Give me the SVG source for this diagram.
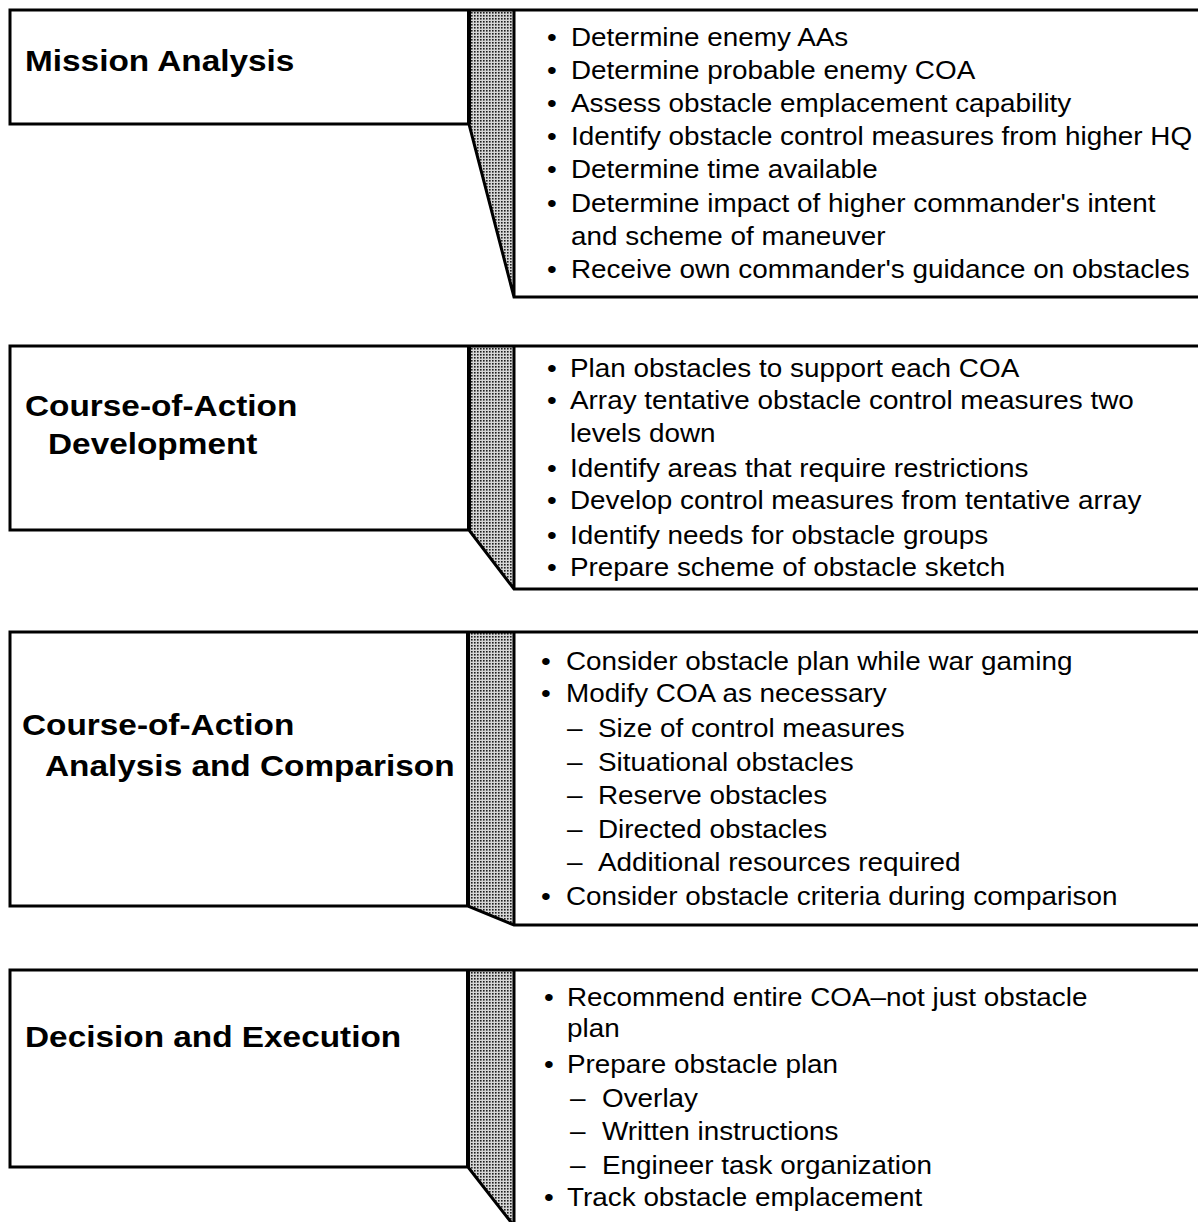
<svg xmlns="http://www.w3.org/2000/svg" width="1198" height="1222" viewBox="0 0 1198 1222">
<defs>
<pattern id="dots" width="3" height="3" patternUnits="userSpaceOnUse">
<rect width="3" height="3" fill="#d6d6d6"/>
<rect width="1.6" height="1.6" fill="#1e1e1e"/>
</pattern>
<style>
.out{fill:none;stroke:#000;stroke-width:3;stroke-linejoin:miter}
.edge{fill:none;stroke:#000;stroke-width:4}
.strip{fill:url(#dots);stroke:none}
.t{font-family:"Liberation Sans",Arial,Helvetica,sans-serif;font-weight:bold;font-size:29px;fill:#000}
.b{font-family:"Liberation Sans",Arial,Helvetica,sans-serif;font-size:25px;fill:#000}
</style>
</defs>
<rect width="1198" height="1222" fill="#fff"/>

<g id="mission-analysis">
<polygon class="strip" points="469,10 514,10 514,297 469,124"/>
<path class="out" d="M1198,10 H10 V124 H469 L514,297 H1198 M514,10 V297"/>
<path class="edge" d="M469,10 V124"/>
<text class="t" transform="matrix(1.15 0 0 1 25 71)">Mission Analysis</text>
<text class="b" transform="matrix(1.115 0 0 1 547 46)">•</text><text class="b" transform="matrix(1.115 0 0 1 571 46)">Determine enemy AAs</text>
<text class="b" transform="matrix(1.115 0 0 1 547 79)">•</text><text class="b" transform="matrix(1.115 0 0 1 571 79)">Determine probable enemy COA</text>
<text class="b" transform="matrix(1.115 0 0 1 547 112)">•</text><text class="b" transform="matrix(1.115 0 0 1 571 112)">Assess obstacle emplacement capability</text>
<text class="b" transform="matrix(1.115 0 0 1 547 145)">•</text><text class="b" transform="matrix(1.115 0 0 1 571 145)">Identify obstacle control measures from higher HQ</text>
<text class="b" transform="matrix(1.115 0 0 1 547 178)">•</text><text class="b" transform="matrix(1.115 0 0 1 571 178)">Determine time available</text>
<text class="b" transform="matrix(1.115 0 0 1 547 212)">•</text><text class="b" transform="matrix(1.115 0 0 1 571 212)">Determine impact of higher commander's intent</text>
<text class="b" transform="matrix(1.115 0 0 1 571 245)">and scheme of maneuver</text>
<text class="b" transform="matrix(1.115 0 0 1 547 278)">•</text><text class="b" transform="matrix(1.115 0 0 1 571 278)">Receive own commander's guidance on obstacles</text>
</g>

<g id="coa-development">
<polygon class="strip" points="469,346 514,346 514,589 469,530"/>
<path class="out" d="M1198,346 H10 V530 H469 L514,589 H1198 M514,346 V589"/>
<path class="edge" d="M469,346 V530"/>
<text class="t" transform="matrix(1.15 0 0 1 25 416)">Course-of-Action</text>
<text class="t" transform="matrix(1.15 0 0 1 48 454)">Development</text>
<text class="b" transform="matrix(1.115 0 0 1 547 377)">•</text><text class="b" transform="matrix(1.115 0 0 1 570 377)">Plan obstacles to support each COA</text>
<text class="b" transform="matrix(1.115 0 0 1 547 409)">•</text><text class="b" transform="matrix(1.115 0 0 1 570 409)">Array tentative obstacle control measures two</text>
<text class="b" transform="matrix(1.115 0 0 1 570 442)">levels down</text>
<text class="b" transform="matrix(1.115 0 0 1 547 477)">•</text><text class="b" transform="matrix(1.115 0 0 1 570 477)">Identify areas that require restrictions</text>
<text class="b" transform="matrix(1.115 0 0 1 547 509)">•</text><text class="b" transform="matrix(1.115 0 0 1 570 509)">Develop control measures from tentative array</text>
<text class="b" transform="matrix(1.115 0 0 1 547 544)">•</text><text class="b" transform="matrix(1.115 0 0 1 570 544)">Identify needs for obstacle groups</text>
<text class="b" transform="matrix(1.115 0 0 1 547 576)">•</text><text class="b" transform="matrix(1.115 0 0 1 570 576)">Prepare scheme of obstacle sketch</text>
</g>

<g id="coa-analysis">
<polygon class="strip" points="468,632 514,632 514,925 468,906"/>
<path class="out" d="M1198,632 H10 V906 H468 L514,925 H1198 M514,632 V925"/>
<path class="edge" d="M468,632 V906"/>
<text class="t" transform="matrix(1.15 0 0 1 22 735)">Course-of-Action</text>
<text class="t" transform="matrix(1.15 0 0 1 45 776)">Analysis and Comparison</text>
<text class="b" transform="matrix(1.115 0 0 1 541 670)">•</text><text class="b" transform="matrix(1.115 0 0 1 566 670)">Consider obstacle plan while war gaming</text>
<text class="b" transform="matrix(1.115 0 0 1 541 702)">•</text><text class="b" transform="matrix(1.115 0 0 1 566 702)">Modify COA as necessary</text>
<text class="b" transform="matrix(1.115 0 0 1 567 737)">–</text><text class="b" transform="matrix(1.115 0 0 1 598 737)">Size of control measures</text>
<text class="b" transform="matrix(1.115 0 0 1 567 771)">–</text><text class="b" transform="matrix(1.115 0 0 1 598 771)">Situational obstacles</text>
<text class="b" transform="matrix(1.115 0 0 1 567 804)">–</text><text class="b" transform="matrix(1.115 0 0 1 598 804)">Reserve obstacles</text>
<text class="b" transform="matrix(1.115 0 0 1 567 838)">–</text><text class="b" transform="matrix(1.115 0 0 1 598 838)">Directed obstacles</text>
<text class="b" transform="matrix(1.115 0 0 1 567 871)">–</text><text class="b" transform="matrix(1.115 0 0 1 598 871)">Additional resources required</text>
<text class="b" transform="matrix(1.115 0 0 1 541 905)">•</text><text class="b" transform="matrix(1.115 0 0 1 566 905)">Consider obstacle criteria during comparison</text>
</g>

<g id="decision-execution">
<polygon class="strip" points="468,970 514,970 514,1226 468,1167"/>
<path class="out" d="M1198,970 H10 V1167 H468 L514,1226 M514,970 V1226"/>
<path class="edge" d="M468,970 V1167"/>
<text class="t" transform="matrix(1.15 0 0 1 25 1047)">Decision and Execution</text>
<text class="b" transform="matrix(1.115 0 0 1 544 1006)">•</text><text class="b" transform="matrix(1.115 0 0 1 567 1006)">Recommend entire COA–not just obstacle</text>
<text class="b" transform="matrix(1.115 0 0 1 567 1037)">plan</text>
<text class="b" transform="matrix(1.115 0 0 1 544 1073)">•</text><text class="b" transform="matrix(1.115 0 0 1 567 1073)">Prepare obstacle plan</text>
<text class="b" transform="matrix(1.115 0 0 1 570 1107)">–</text><text class="b" transform="matrix(1.115 0 0 1 602 1107)">Overlay</text>
<text class="b" transform="matrix(1.115 0 0 1 570 1140)">–</text><text class="b" transform="matrix(1.115 0 0 1 602 1140)">Written instructions</text>
<text class="b" transform="matrix(1.115 0 0 1 570 1174)">–</text><text class="b" transform="matrix(1.115 0 0 1 602 1174)">Engineer task organization</text>
<text class="b" transform="matrix(1.115 0 0 1 544 1206)">•</text><text class="b" transform="matrix(1.115 0 0 1 567 1206)">Track obstacle emplacement</text>
</g>
</svg>
